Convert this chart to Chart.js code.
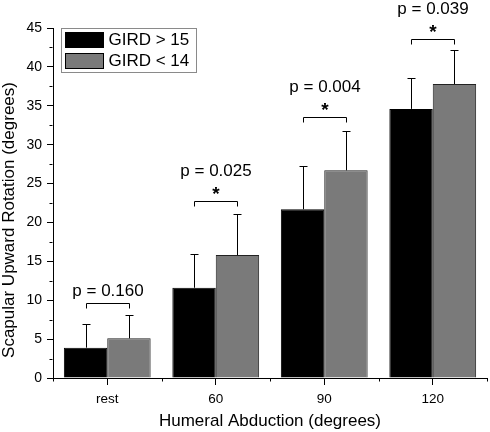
<!DOCTYPE html>
<html>
<head>
<meta charset="utf-8">
<script src="https://cdn.jsdelivr.net/npm/chart.js@4"></script>
<style>
  html, body { margin: 0; padding: 0; background: #fff; }
  #wrap { width: 490px; height: 432px; }
</style>
</head>
<body>
<div id="wrap"><canvas id="myChart"></canvas></div>
<script>
// Scapular upward rotation by humeral abduction, two GIRD groups
const categories = ['rest', '60', '90', '120'];
const girdHigh = [3.9, 11.6, 21.7, 34.6];      // GIRD > 15 means
const girdHighSD = [3.0, 4.4, 5.5, 4.0];       // upward error bars
const girdLow = [5.1, 15.8, 26.7, 37.8];       // GIRD < 14 means
const girdLowSD = [3.0, 5.3, 5.1, 4.4];
const pValues = ['0.160', '0.025', '0.004', '0.039'];
const significant = [false, true, true, true];
const bracketLevels = [9.7, 22.8, 33.5, 43.6]; // bracket height in degrees
const yTicks = [0, 5, 10, 15, 20, 25, 30, 35, 40, 45];
const yTitle = 'Scapular Upward Rotation (degrees)';

const FONT = '"Liberation Sans", Arial, sans-serif';
const sdSets = [girdHighSD, girdLowSD];

// error bars, brackets, p-values, minor ticks, y title and the boxed legend
const extras = {
    id: 'extras',
    afterDatasetsDraw(chart) {
        const ctx = chart.ctx;
        const x = chart.scales.x, y = chart.scales.y;
        ctx.save();
        ctx.strokeStyle = '#000';
        ctx.lineWidth = 1;

        // error bars (upper half only)
        chart.data.datasets.forEach((ds, d) => {
            chart.getDatasetMeta(d).data.forEach((bar, i) => {
                const cx = Math.round(bar.x) + 0.5;
                const top = y.getPixelForValue(ds.data[i]);
                const end = Math.round(y.getPixelForValue(ds.data[i] + sdSets[d][i])) + 0.5;
                ctx.beginPath();
                ctx.moveTo(cx, top);
                ctx.lineTo(cx, end);
                ctx.moveTo(cx - 4, end);
                ctx.lineTo(cx + 4, end);
                ctx.stroke();
            });
        });

        // brackets and labels
        ctx.fillStyle = '#000';
        ctx.textAlign = 'center';
        ctx.textBaseline = 'alphabetic';
        categories.forEach((c, i) => {
            const a = Math.round(chart.getDatasetMeta(0).data[i].x) + 0.5;
            const b = Math.round(chart.getDatasetMeta(1).data[i].x) + 0.5;
            const by = Math.round(y.getPixelForValue(bracketLevels[i])) + 0.5;
            ctx.beginPath();
            ctx.moveTo(a, by + 5);
            ctx.lineTo(a, by);
            ctx.lineTo(b, by);
            ctx.lineTo(b, by + 5);
            ctx.stroke();
            const mid = (a + b) / 2;
            if (significant[i]) {
                ctx.font = 'bold 19px ' + FONT;
                ctx.fillText('*', mid, by - 2);
                ctx.font = '17px ' + FONT;
                ctx.fillText('p = ' + pValues[i], mid, by - 26);
            } else {
                ctx.font = '17px ' + FONT;
                ctx.fillText('p = ' + pValues[i], mid, by - 8);
            }
        });

        // minor ticks
        const bottom = Math.round(x.top) + 0.5;
        const left = Math.round(y.right) - 0.5;
        ctx.beginPath();
        for (let v = 2.5; v < 45; v += 5) {
            const py = Math.round(y.getPixelForValue(v)) + 0.5;
            ctx.moveTo(left - 3, py);
            ctx.lineTo(left, py);
        }
        const step = (x.right - x.left) / categories.length;
        for (let k = 0; k <= categories.length; k++) {
            const px = Math.round(x.left + k * step) + 0.5;
            ctx.moveTo(px, bottom);
            ctx.lineTo(px, bottom + 3);
        }
        ctx.stroke();

        // y axis title, sits a bit below the axis centre in the original
        ctx.save();
        ctx.translate(9, 220);
        ctx.rotate(-Math.PI / 2);
        ctx.font = '17px ' + FONT;
        ctx.textAlign = 'center';
        ctx.textBaseline = 'middle';
        ctx.fillText(yTitle, 0, 0);
        ctx.restore();

        // legend box
        const lx = 61.5, ly = 28.5;
        ctx.strokeStyle = '#8a8a8a';
        ctx.strokeRect(lx, ly, 135, 44);
        ctx.font = '17px ' + FONT;
        ctx.textAlign = 'left';
        ctx.textBaseline = 'middle';
        chart.data.datasets.forEach((ds, d) => {
            const sy = ly + 4 + d * 21;
            ctx.fillStyle = ds.backgroundColor;
            ctx.fillRect(lx + 4, sy, 38, 15);
            ctx.strokeStyle = '#000';
            ctx.strokeRect(lx + 4, sy, 38, 15);
            ctx.fillStyle = '#000';
            ctx.fillText(ds.label, lx + 47, sy + 8);
        });
        ctx.restore();
    }
};

const ctx = document.getElementById('myChart');
const myChart = new Chart(ctx, {
    type: 'bar',
    data: {
        labels: categories,
        datasets: [
            {
                label: 'GIRD > 15',
                data: girdHigh,
                backgroundColor: '#000000',
                borderColor: '#000000',
                borderWidth: 1
            },
            {
                label: 'GIRD < 14',
                data: girdLow,
                backgroundColor: '#7a7a7a',
                borderColor: '#222222',
                borderWidth: 1
            }
        ]
    },
    options: {
        responsive: true,
        maintainAspectRatio: false,
        animation: false,
        categoryPercentage: 0.8,
        barPercentage: 1.0,
        layout: { padding: { top: 28, right: 3, left: 0, bottom: 0 } },
        scales: {
            x: {
                grid: { display: true, drawOnChartArea: false, offset: false, tickLength: 7, tickColor: '#000' },
                border: { color: '#000', width: 1 },
                ticks: { color: '#000', font: { family: FONT, size: 13.5 }, padding: 6 },
                title: {
                    display: true,
                    text: 'Humeral Abduction (degrees)',
                    color: '#000',
                    font: { family: FONT, size: 17 },
                    padding: { top: 0, bottom: 0 }
                },
                afterFit(scale) { scale.height = 54; }
            },
            y: {
                min: 0,
                max: 45,
                afterBuildTicks(scale) { scale.ticks = yTicks.map(v => ({ value: v })); },
                grid: { display: true, drawOnChartArea: false, tickLength: 6, tickColor: '#000' },
                border: { color: '#000', width: 1 },
                ticks: { color: '#000', font: { family: FONT, size: 14 }, padding: 5 },
                afterFit(scale) { scale.width = 53; }
            }
        },
        plugins: {
            legend: { display: false },
            tooltip: { enabled: false }
        }
    },
    plugins: [extras]
});
</script>
</body>
</html>
